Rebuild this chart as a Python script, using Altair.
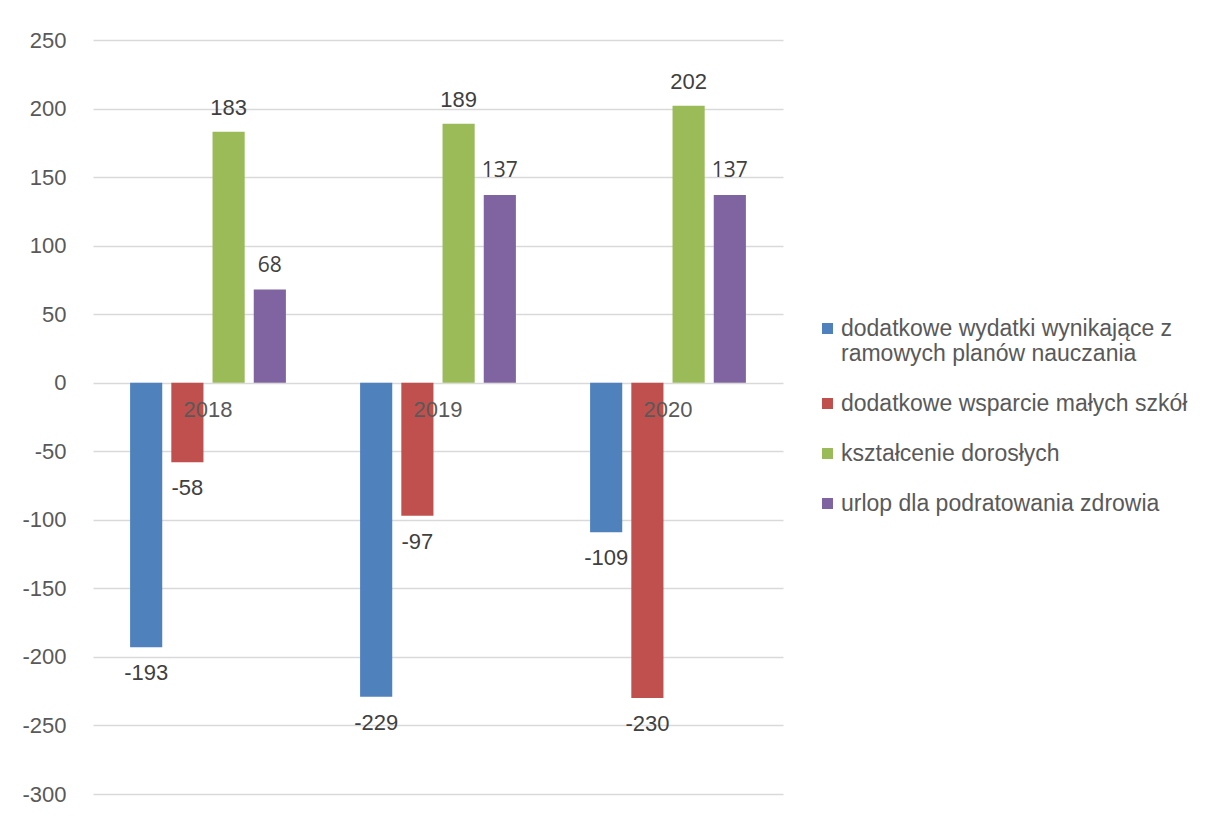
import altair as alt
import pandas as pd

years = ["2018", "2019", "2020"]
series = [
    "dodatkowe wydatki wynikające z ramowych planów nauczania",
    "dodatkowe wsparcie małych szkół",
    "kształcenie dorosłych",
    "urlop dla podratowania zdrowia",
]
colors = ["#4F81BD", "#C0504D", "#9BBB59", "#8064A2"]
v_wydatki = [-193, -229, -109]
v_wsparcie = [-58, -97, -230]
v_ksztalcenie = [183, 189, 202]
v_urlop = [68, 137, 137]
y_ticks = [-300, -250, -200, -150, -100, -50, 0, 50, 100, 150, 200, 250]

rows = []
for s, vals in zip(series, [v_wydatki, v_wsparcie, v_ksztalcenie, v_urlop]):
    for y, v in zip(years, vals):
        rows.append({"rok": y, "seria": s, "wartosc": v, "etykieta": str(v)})
df = pd.DataFrame(rows)
years_df = pd.DataFrame({"rok": years})

FONT = "Liberation Sans"
GREY = "#595959"
DARK = "#404040"

x_enc = alt.X("rok:N", sort=years, scale=alt.Scale(paddingInner=0, paddingOuter=0), axis=None)
xoff_enc = alt.XOffset("seria:N", sort=series, scale=alt.Scale(paddingInner=0.22, paddingOuter=0.9))
y_enc = alt.Y(
    "wartosc:Q",
    scale=alt.Scale(domain=[-300, 250], nice=False, zero=False),
    axis=alt.Axis(
        values=y_ticks, title=None, domain=False, ticks=False,
        labelFont=FONT, labelFontSize=22, labelColor=GREY, labelPadding=27,
        labelExpr="toString(datum.value)",
        gridColor="#d9d9d9", gridWidth=1.5,
    ),
)

wrap_expr = (
    "datum.label == 'dodatkowe wydatki wynikające z ramowych planów nauczania' ? "
    "['dodatkowe wydatki wynikające z', 'ramowych planów nauczania'] : datum.label"
)

bars = alt.Chart(df).mark_bar().encode(
    x=x_enc, xOffset=xoff_enc, y=y_enc,
    color=alt.Color(
        "seria:N", sort=series,
        scale=alt.Scale(domain=series, range=colors),
        legend=alt.Legend(
            title=None, orient="none", legendX=723, legendY=277,
            symbolType="square", symbolSize=121, symbolStrokeWidth=0,
            labelFont=FONT, labelFontSize=23, labelColor=GREY, labelOffset=2,
            labelLimit=0, rowPadding=26, labelExpr=wrap_expr,
        ),
    ),
)

base_text = alt.Chart(df).encode(x=x_enc, xOffset=xoff_enc, y=y_enc, text="etykieta:N")

pos_text = base_text.transform_filter(
    (alt.datum.wartosc > 0) & (alt.datum.seria != series[3])
).mark_text(font=FONT, fontSize=22, color=DARK, dy=-24, baseline="middle")

pos_text_purple = base_text.transform_filter(
    (alt.datum.wartosc > 0) & (alt.datum.seria == series[3])
).mark_text(font="Open Sans", fontSize=21, color=DARK, dy=-24, baseline="middle")

neg_text = base_text.transform_filter(alt.datum.wartosc < 0).mark_text(
    font=FONT, fontSize=22, color=DARK, dy=26, baseline="middle"
)

year_text = alt.Chart(years_df).mark_text(
    font=FONT, fontSize=22, color=GREY, dy=27, baseline="middle"
).encode(x=x_enc, y=alt.datum(0), text="rok:N")

chart = alt.layer(bars, pos_text, pos_text_purple, neg_text, year_text).properties(
    width=690, height=754,
    autosize=alt.AutoSizeParams(type="none"),
    padding={"left": 85, "top": 32, "right": 417, "bottom": 14},
).configure_view(stroke=None)

chart.save("out.html", embed_options={"renderer": "svg", "actions": False})
